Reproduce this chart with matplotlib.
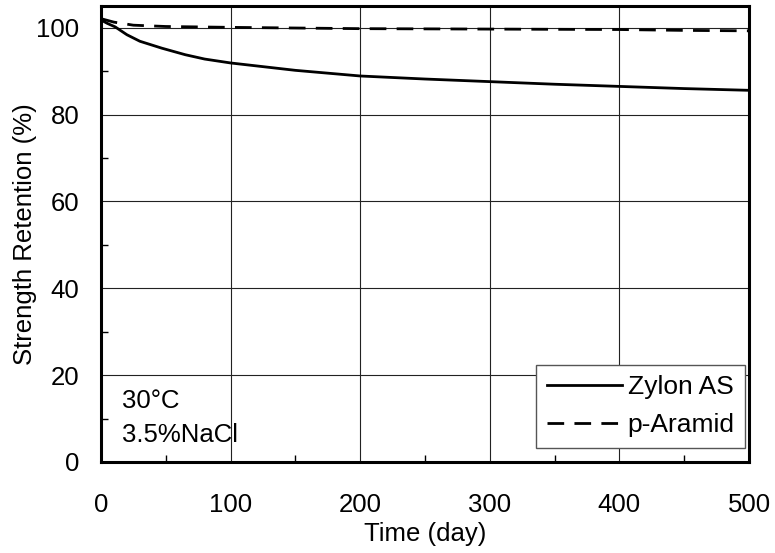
import matplotlib
matplotlib.use("Agg")
import matplotlib.pyplot as plt
from matplotlib.ticker import MultipleLocator

plt.rcParams['font.family'] = ['Liberation Sans', 'DejaVu Sans']

zylon_days = [0, 5, 11, 20, 30, 47, 65, 80, 100, 150, 200, 250, 300, 350, 400, 450, 500]
zylon_vals = [101.8, 101.0, 100.2, 98.4, 96.9, 95.3, 93.8, 92.8, 91.9, 90.2, 88.9, 88.2, 87.6, 87.0, 86.5, 86.0, 85.6]

aramid_days = [0, 10, 25, 50, 100, 200, 300, 400, 450, 500]
aramid_vals = [102.1, 101.3, 100.6, 100.3, 100.1, 99.8, 99.7, 99.6, 99.4, 99.3]

xticks = [0, 100, 200, 300, 400, 500]
yticks = [0, 20, 40, 60, 80, 100]

FS = 18.5

fig = plt.figure(figsize=(7.75, 5.53), dpi=100)
ax = fig.add_axes([0.1303, 0.1646, 0.8362, 0.8244])

ax.plot(zylon_days, zylon_vals, color='black', lw=2.0, label='Zylon AS')
ax.plot(aramid_days, aramid_vals, color='black', lw=2.0, linestyle=(0, (6, 3.7)), label='p-Aramid')

ax.set_xlim(0, 500)
ax.set_ylim(0, 105)
ax.set_xticks(xticks)
ax.set_yticks(yticks)
ax.xaxis.set_minor_locator(MultipleLocator(50))
ax.yaxis.set_minor_locator(MultipleLocator(10))
ax.tick_params(which='both', direction='in', labelsize=FS, top=False, right=False)
ax.tick_params(axis='x', which='major', length=0, pad=22)
ax.tick_params(axis='y', which='major', length=0, pad=15.5)
ax.tick_params(which='minor', length=5, width=1)
ax.grid(True, which='major', color='#222222', lw=0.8)
for s in ax.spines.values():
    s.set_linewidth(2.2)
    s.set_color('black')

ax.set_xlabel('Time (day)', fontsize=FS)
ax.set_ylabel('Strength Retention (%)', fontsize=FS)
ax.xaxis.set_label_coords(0.5, -0.1316)
ax.yaxis.set_label_coords(-0.0988, 0.5)

ax.text(0.032, 0.118, '30°C', transform=ax.transAxes, fontsize=FS, va='baseline', ha='left')
ax.text(0.032, 0.0439, '3.5%NaCl', transform=ax.transAxes, fontsize=FS, va='baseline', ha='left')

leg = ax.legend(loc='lower right', fontsize=19, handlelength=2.84, handletextpad=0.23,
                borderpad=0.4, labelspacing=0.53, fancybox=False, framealpha=1,
                edgecolor='#555555', bbox_to_anchor=(0.994, 0.031), borderaxespad=0)
leg.get_frame().set_linewidth(1.0)

fig.savefig('out.png', dpi=100)
